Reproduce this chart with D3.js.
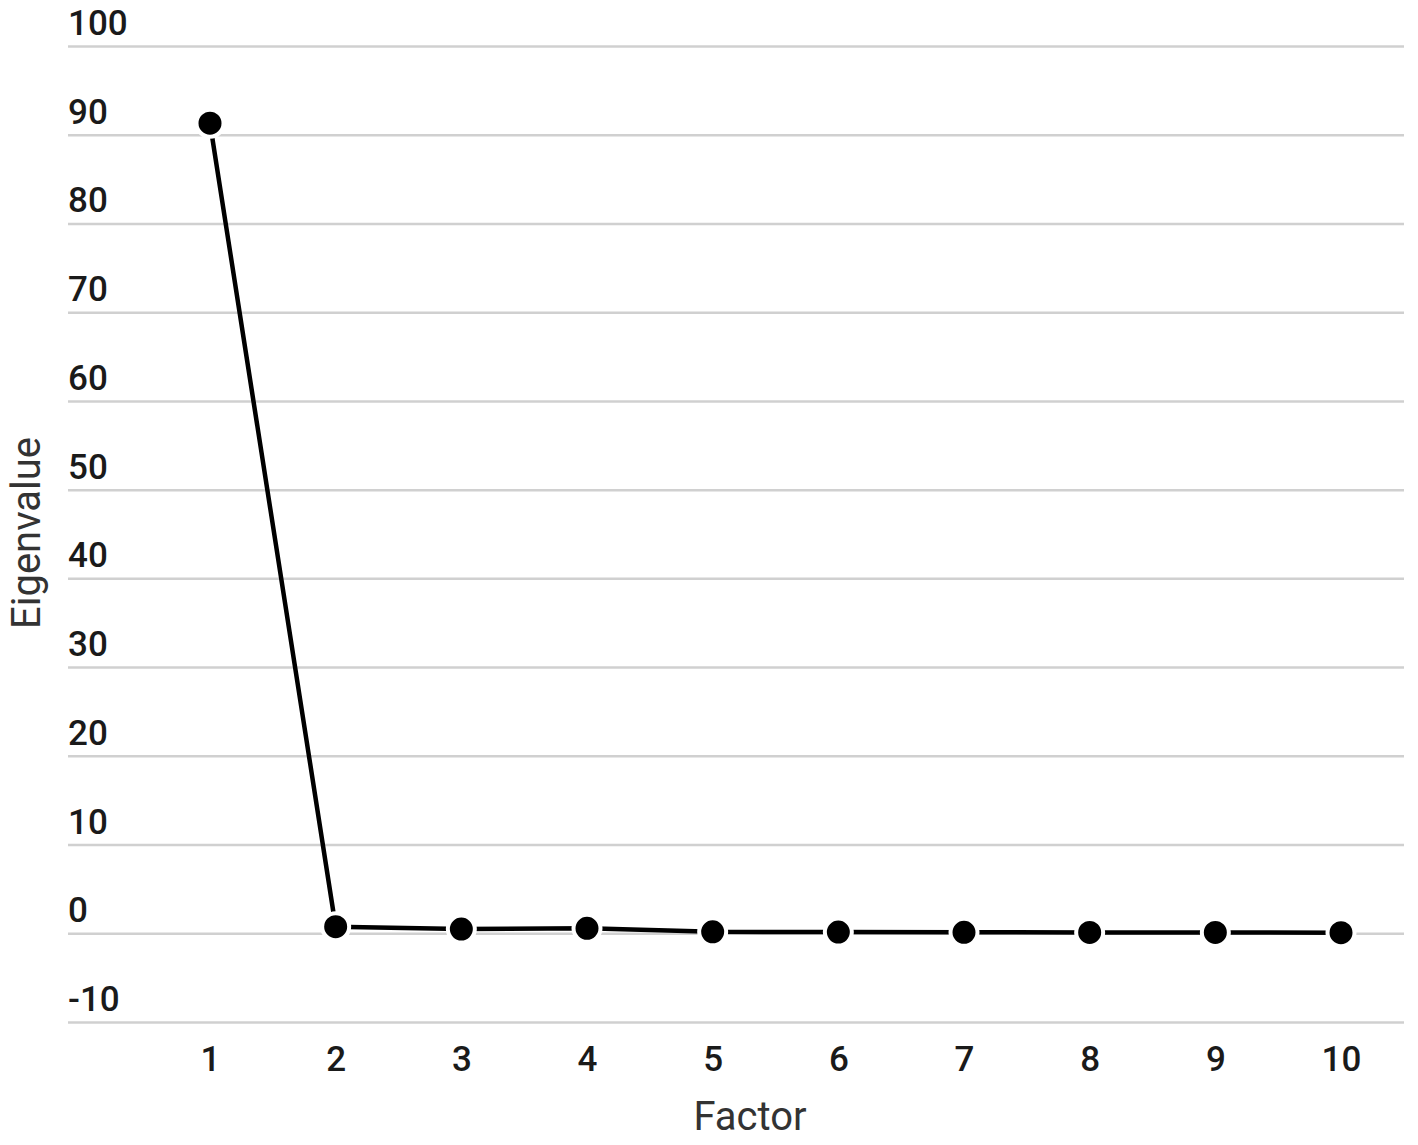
<!DOCTYPE html>
<html><head><meta charset="utf-8">
<script src="https://cdn.jsdelivr.net/npm/d3@7"></script>
<style>body{margin:0;background:#fff}</style>
</head><body>
<svg id="c" width="1418" height="1145"></svg>
<script>
const factors = [1,2,3,4,5,6,7,8,9,10];
const eigenvalues = [91.3, 0.74, 0.48, 0.56, 0.16, 0.13, 0.11, 0.1, 0.09, 0.07];
const yTicks = [-10,0,10,20,30,40,50,60,70,80,90,100];

const svg = d3.select("#c");
const font = "Roboto, 'Noto Sans', sans-serif";
const x = d3.scaleLinear().domain([1,10]).range([210,1341]);
const y = d3.scaleLinear().domain([-10,100]).range([1022,46]);
const gridL = 68, gridR = 1404;

const gy = svg.append("g").attr("transform",`translate(${gridR},0)`).call(d3.axisRight(y).tickValues(yTicks).tickSize(-(gridR-gridL)).tickFormat(""));
gy.select(".domain").remove();
gy.selectAll(".tick line").attr("stroke","#d0d0d0").attr("stroke-width",2.5);

const labels = svg.append("g");
labels.selectAll("text").data(yTicks).join("text")
  .attr("x",gridL).attr("y",d=>y(d)-11)
  .attr("font-family",font).attr("font-size",35).attr("font-weight",500).attr("fill","#1a1a1a")
  .text(d=>d);

const gx = svg.append("g").attr("transform","translate(0,1071)")
  .call(d3.axisBottom(x).tickValues(factors).tickSize(0).tickPadding(0).tickFormat(d3.format("d")));
gx.select(".domain").remove();
gx.selectAll("text").attr("font-family",font).attr("font-size",35).attr("font-weight",500).attr("fill","#1a1a1a").attr("dy",0);

const data = factors.map((f,i)=>({f,v:eigenvalues[i]}));
svg.append("path").datum(data)
  .attr("d",d3.line().x(d=>x(d.f)).y(d=>y(d.v)))
  .attr("fill","none").attr("stroke","#000").attr("stroke-width",4.5);
svg.append("g").selectAll("circle").data(data).join("circle")
  .attr("cx",d=>x(d.f)).attr("cy",d=>y(d.v)).attr("r",13.5)
  .attr("fill","#000").attr("stroke","#fff").attr("stroke-width",4);

svg.append("text").attr("x",750).attr("y",1130).attr("text-anchor","middle")
  .attr("font-family",font).attr("font-size",40).attr("fill","#333").text("Factor");
svg.append("text").attr("transform","translate(40,533) rotate(-90)").attr("text-anchor","middle")
  .attr("font-family",font).attr("font-size",40).attr("fill","#333").text("Eigenvalue");
</script>
</body></html>
